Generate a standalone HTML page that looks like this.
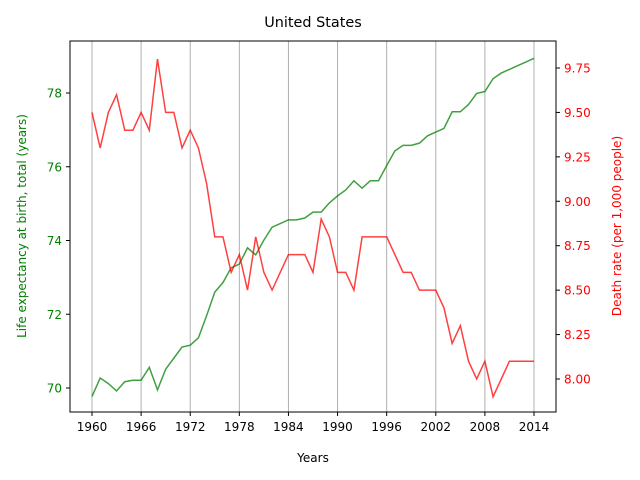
<!DOCTYPE html>
<html><head><meta charset="utf-8"><style>body{margin:0;background:#fff}svg{display:block;font-family:"DejaVu Sans","Liberation Sans",sans-serif}</style></head>
<body>
<svg id="chart" width="640" height="480" viewBox="0 0 640 480">
<rect width="640" height="480" fill="#fff"/>
<text x="313" y="27" font-size="14.4" text-anchor="middle">United States</text>
<g id="grid"></g>
<g id="lines"></g>
<rect x="70" y="41" width="486" height="371" fill="none" stroke="#000" stroke-width="1"/>
<g id="axes"></g>
<text x="313" y="462" font-size="12" text-anchor="middle">Years</text>
<text transform="translate(26,226) rotate(-90)" font-size="12" fill="green" text-anchor="middle">Life expectancy at birth, total (years)</text>
<text transform="translate(621,226) rotate(-90)" font-size="12" fill="red" text-anchor="middle">Death rate (per 1,000 people)</text>
</svg>
<script>
const years=[];for(let y=1960;y<=2014;y++)years.push(y);
const lifeExp=[69.77,70.27,70.12,69.92,70.17,70.21,70.21,70.56,69.95,70.51,70.81,71.11,71.16,71.36,71.96,72.60,72.86,73.26,73.36,73.80,73.61,74.01,74.36,74.46,74.56,74.56,74.61,74.77,74.77,75.02,75.21,75.37,75.62,75.42,75.62,75.62,76.03,76.43,76.58,76.58,76.64,76.84,76.94,77.04,77.49,77.49,77.69,77.99,78.04,78.39,78.54,78.64,78.74,78.84,78.94];
const deathRate=[9.5,9.3,9.5,9.6,9.4,9.4,9.5,9.4,9.8,9.5,9.5,9.3,9.4,9.3,9.1,8.8,8.8,8.6,8.7,8.5,8.8,8.6,8.5,8.6,8.7,8.7,8.7,8.6,8.9,8.8,8.6,8.6,8.5,8.8,8.8,8.8,8.8,8.7,8.6,8.6,8.5,8.5,8.5,8.4,8.2,8.3,8.1,8.0,8.1,7.9,8.0,8.1,8.1,8.1,8.1];
const xTicks=[1960,1966,1972,1978,1984,1990,1996,2002,2008,2014];
const leftTicks=[70,72,74,76,78];
const rightTicks=["8.00","8.25","8.50","8.75","9.00","9.25","9.50","9.75"];
const NS="http://www.w3.org/2000/svg";
const xS=v=>92+(v-1960)*(442/54);
const yL=v=>388-(v-70)*(295/8);
const yR=v=>379-(v-8)*(311/1.75);
function mk(tag,attrs,parent,text){const e=document.createElementNS(NS,tag);for(const k in attrs)e.setAttribute(k,attrs[k]);if(text!==undefined)e.textContent=text;document.getElementById(parent).appendChild(e);return e;}
xTicks.forEach(t=>{const x=xS(t);
 const g=mk('line',{x1:x,x2:x,y1:41,y2:412,stroke:'#b0b0b0','stroke-width':1},'grid');
 
 const tk=mk('line',{x1:x,x2:x,y1:412,y2:416,stroke:'#000'},'axes');
 
 const l=mk('text',{x:x,y:431,'font-size':12,'text-anchor':'middle'},'axes',t);
 });
leftTicks.forEach(t=>{const y=yL(t);
 const tk=mk('line',{x1:66,x2:70,y1:y,y2:y,stroke:'#000'},'axes');
 
 const l=mk('text',{x:62,y:y+4.5,'font-size':12,'text-anchor':'end',fill:'green'},'axes',t);
 });
rightTicks.forEach(t=>{const y=yR(parseFloat(t));
 const tk=mk('line',{x1:556,x2:560,y1:y,y2:y,stroke:'#000'},'axes');
 
 const l=mk('text',{x:564,y:y+4.5,'font-size':12,fill:'red'},'axes',t);
 });
const lp=mk('polyline',{points:years.map((y,i)=>xS(y)+','+yL(lifeExp[i])).join(' '),fill:'none',stroke:'green','stroke-width':1.5,'stroke-opacity':0.75},'lines');

const dp=mk('polyline',{points:years.map((y,i)=>xS(y)+','+yR(deathRate[i])).join(' '),fill:'none',stroke:'red','stroke-width':1.5,'stroke-opacity':0.75},'lines');

</script>
</body></html>
